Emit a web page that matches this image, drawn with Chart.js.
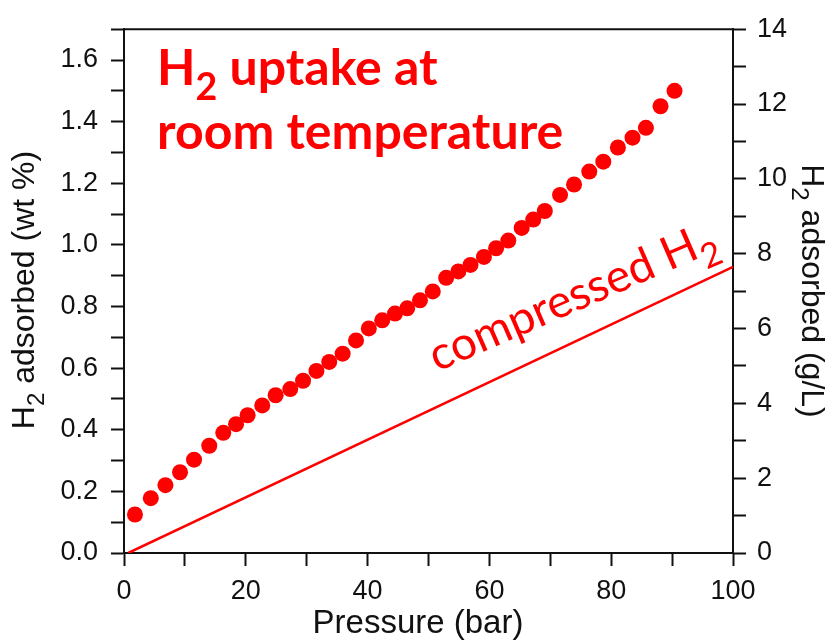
<!DOCTYPE html>
<html>
<head>
<meta charset="utf-8">
<script src="https://cdn.jsdelivr.net/npm/chart.js@4.4.1/dist/chart.umd.min.js"></script>
<style>
  html, body { margin: 0; padding: 0; background: #fff; }
</style>
</head>
<body>
<canvas id="chartH2" width="831" height="641"></canvas>
<script>
const pressure = [1.8, 4.4, 6.8, 9.2, 11.5, 14.0, 16.3, 18.4, 20.3, 22.7,
  24.9, 27.3, 29.4, 31.6, 33.7, 35.9, 38.1, 40.2, 42.4, 44.5,
  46.5, 48.6, 50.7, 52.9, 54.9, 56.9, 59.1, 61.1, 63.1, 65.3,
  67.2, 69.1, 71.6, 73.9, 76.4, 78.7, 81.1, 83.5, 85.7, 88.1, 90.4];
// H2 adsorbed (wt %)
const uptake = [0.125, 0.178, 0.220, 0.262, 0.303, 0.348, 0.390, 0.418, 0.447, 0.479,
  0.512, 0.532, 0.559, 0.591, 0.620, 0.647, 0.690, 0.729, 0.755, 0.777,
  0.794, 0.820, 0.849, 0.893, 0.914, 0.935, 0.961, 0.989, 1.014, 1.055,
  1.082, 1.110, 1.162, 1.196, 1.238, 1.270, 1.316, 1.348, 1.380, 1.450, 1.500];
// compressed H2 line (g/L, right axis)
const compressedP = [0.7, 100];
const compressedGL = [0, 7.65];

const RED = '#ff0000';
const INK = '#111';
const SANS = '"Liberation Sans", Arial, sans-serif';

const scatterData = pressure.map((p, i) => ({ x: p, y: uptake[i] }));
const lineData = compressedP.map((p, i) => ({ x: p, y: compressedGL[i] }));

// draws text where some parts are subscripts; x is start (or centre if centred)
function drawSubText(ctx, parts, x, y, size, weight, family, centred) {
  const fontFor = sub => weight + ' ' + (sub ? size * 0.75 : size) + 'px ' + family;
  let total = 0;
  parts.forEach(p => { ctx.font = fontFor(p[1]); total += ctx.measureText(p[0]).width; });
  let cx = centred ? x - total / 2 : x;
  ctx.textAlign = 'left';
  ctx.textBaseline = 'alphabetic';
  parts.forEach(p => {
    ctx.font = fontFor(p[1]);
    ctx.fillText(p[0], cx, p[1] ? y + size * 0.3 : y);
    cx += ctx.measureText(p[0]).width;
  });
}

const textPlugin = {
  id: 'textPlugin',
  afterDraw(chart) {
    const ctx = chart.ctx;
    const area = chart.chartArea;
    ctx.save();

    // top frame line
    ctx.strokeStyle = INK;
    ctx.lineWidth = 2;
    ctx.beginPath();
    ctx.moveTo(area.left - 1, area.top);
    ctx.lineTo(area.right + 1, area.top);
    ctx.stroke();

    ctx.fillStyle = INK;
    // left axis title
    ctx.save();
    ctx.translate(34, 290);
    ctx.rotate(-Math.PI / 2);
    drawSubText(ctx, [['H', false], ['2', true], [' adsorbed (wt %)', false]], 0, 0, 32, 'normal', SANS, true);
    ctx.restore();

    // right axis title
    ctx.save();
    ctx.translate(802, 291);
    ctx.rotate(Math.PI / 2);
    drawSubText(ctx, [['H', false], ['2', true], [' adsorbed (g/L)', false]], 0, 0, 32, 'normal', SANS, true);
    ctx.restore();

    // x axis title
    drawSubText(ctx, [['Pressure (bar)', false]], 418, 633, 33, 'normal', SANS, true);

    // annotation
    ctx.fillStyle = RED;
    drawSubText(ctx, [['H', false], ['2', true], [' uptake at', false]], 157, 85, 50, 'bold', 'Lato, sans-serif', false);
    drawSubText(ctx, [['room temperature', false]], 157, 149, 50, 'bold', 'Lato, sans-serif', false);

    ctx.save();
    ctx.translate(437, 372);
    ctx.rotate(-23.5 * Math.PI / 180);
    drawSubText(ctx, [['compressed H', false], ['2', true]], 0, 0, 46, 'normal', 'Lato, sans-serif', false);
    ctx.restore();

    ctx.restore();
  }
};

const tickFont = { family: SANS, size: 27 };
const axisGrid = { drawOnChartArea: false, drawTicks: true, tickLength: 13, tickWidth: 2, tickColor: INK };

new Chart(document.getElementById('chartH2').getContext('2d'), {
  type: 'scatter',
  data: {
    datasets: [{
      label: 'H2 uptake',
      data: scatterData,
      yAxisID: 'y',
      pointRadius: 8,
      pointHoverRadius: 8,
      backgroundColor: RED,
      borderWidth: 0
    }, {
      type: 'line',
      label: 'compressed H2',
      data: lineData,
      yAxisID: 'y2',
      borderColor: RED,
      borderWidth: 2.5,
      pointRadius: 0,
      showLine: true,
      fill: false
    }]
  },
  options: {
    responsive: false,
    animation: false,
    layout: { padding: { top: 22, left: 0, right: 0, bottom: 0 } },
    plugins: { legend: { display: false }, tooltip: { enabled: false } },
    scales: {
      x: {
        type: 'linear',
        min: 0,
        max: 100,
        grid: axisGrid,
        border: { color: INK, width: 2 },
        ticks: {
          stepSize: 10,
          autoSkip: false,
          maxRotation: 0,
          padding: 9,
          color: INK,
          font: tickFont,
          callback: v => (Math.round(v) % 20 === 0 ? String(Math.round(v)) : '')
        },
        afterFit(scale) { scale.height = 88; }
      },
      y: {
        position: 'left',
        min: 0,
        max: 1.7,
        grid: axisGrid,
        border: { color: INK, width: 2 },
        ticks: {
          stepSize: 0.1,
          autoSkip: false,
          padding: 13,
          color: INK,
          font: tickFont,
          callback: v => (Math.round(v * 10) % 2 === 0 ? v.toFixed(1) : '')
        },
        afterFit(scale) { scale.width = 124; }
      },
      y2: {
        position: 'right',
        min: 0,
        max: 14,
        grid: axisGrid,
        border: { color: INK, width: 2 },
        ticks: {
          stepSize: 1,
          autoSkip: false,
          padding: 11,
          color: INK,
          font: tickFont,
          callback: v => (Math.round(v) % 2 === 0 ? String(Math.round(v)) : '')
        },
        afterFit(scale) { scale.width = 98; }
      }
    }
  },
  plugins: [textPlugin]
});
</script>
</body>
</html>
